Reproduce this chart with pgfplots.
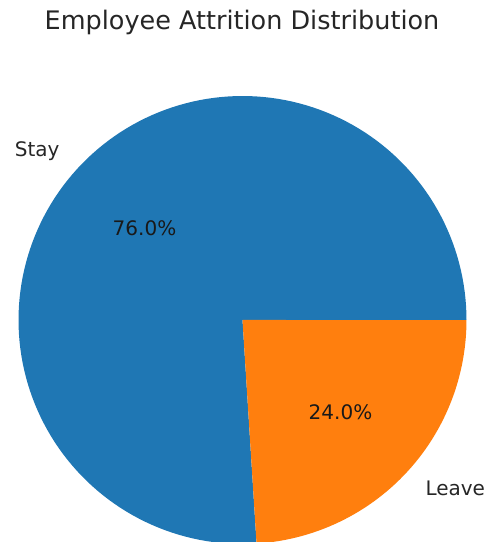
\documentclass[border=0pt]{standalone}
\usepackage{pgfplots}
\pgfplotsset{compat=1.18}
\usepackage{fontspec}
\setmainfont{DejaVu Sans}
\definecolor{c0}{HTML}{1F77B4}
\definecolor{c1}{HTML}{FF7F0E}
\begin{document}
\begin{tikzpicture}
\pgfmathsetmacro{\stay}{76.0}
\pgfmathsetmacro{\leave}{24.0}
\pgfmathsetmacro{\aone}{\stay/(\stay+\leave)*360}
\begin{axis}[width=492pt,height=542pt,scale only axis,hide axis,
  xmin=0,xmax=492,ymin=0,ymax=542,clip=true]
\path (rel axis cs:0,0) rectangle (rel axis cs:1,1);
\addplot[fill=c0,draw=none,domain=0:\aone,samples=150,variable=\t]
  ({242.5+224*cos(\t)},{222+224*sin(\t)}) -- (axis cs:242.5,222) -- cycle;
\addplot[fill=c1,draw=none,domain=\aone:360,samples=60,variable=\t]
  ({242.5+224*cos(\t)},{222+224*sin(\t)}) -- (axis cs:242.5,222) -- cycle;
\node[anchor=base,font=\fontsize{25.5}{30}\selectfont,text=black!85] at (axis cs:242,512) {Employee Attrition Distribution};
\node[anchor=east,font=\fontsize{20}{24}\selectfont,text=black!85] at (axis cs:63,390.4) {Stay};
\node[anchor=west,font=\fontsize{20}{24}\selectfont,text=black!85] at (axis cs:422,53.6) {Leave};
\node[font=\fontsize{20}{24}\selectfont,text=black!90] at (axis cs:144.5,314) {76.0\%};
\node[font=\fontsize{20}{24}\selectfont,text=black!90] at (axis cs:340.5,130) {24.0\%};
\end{axis}
\end{tikzpicture}
\end{document}
